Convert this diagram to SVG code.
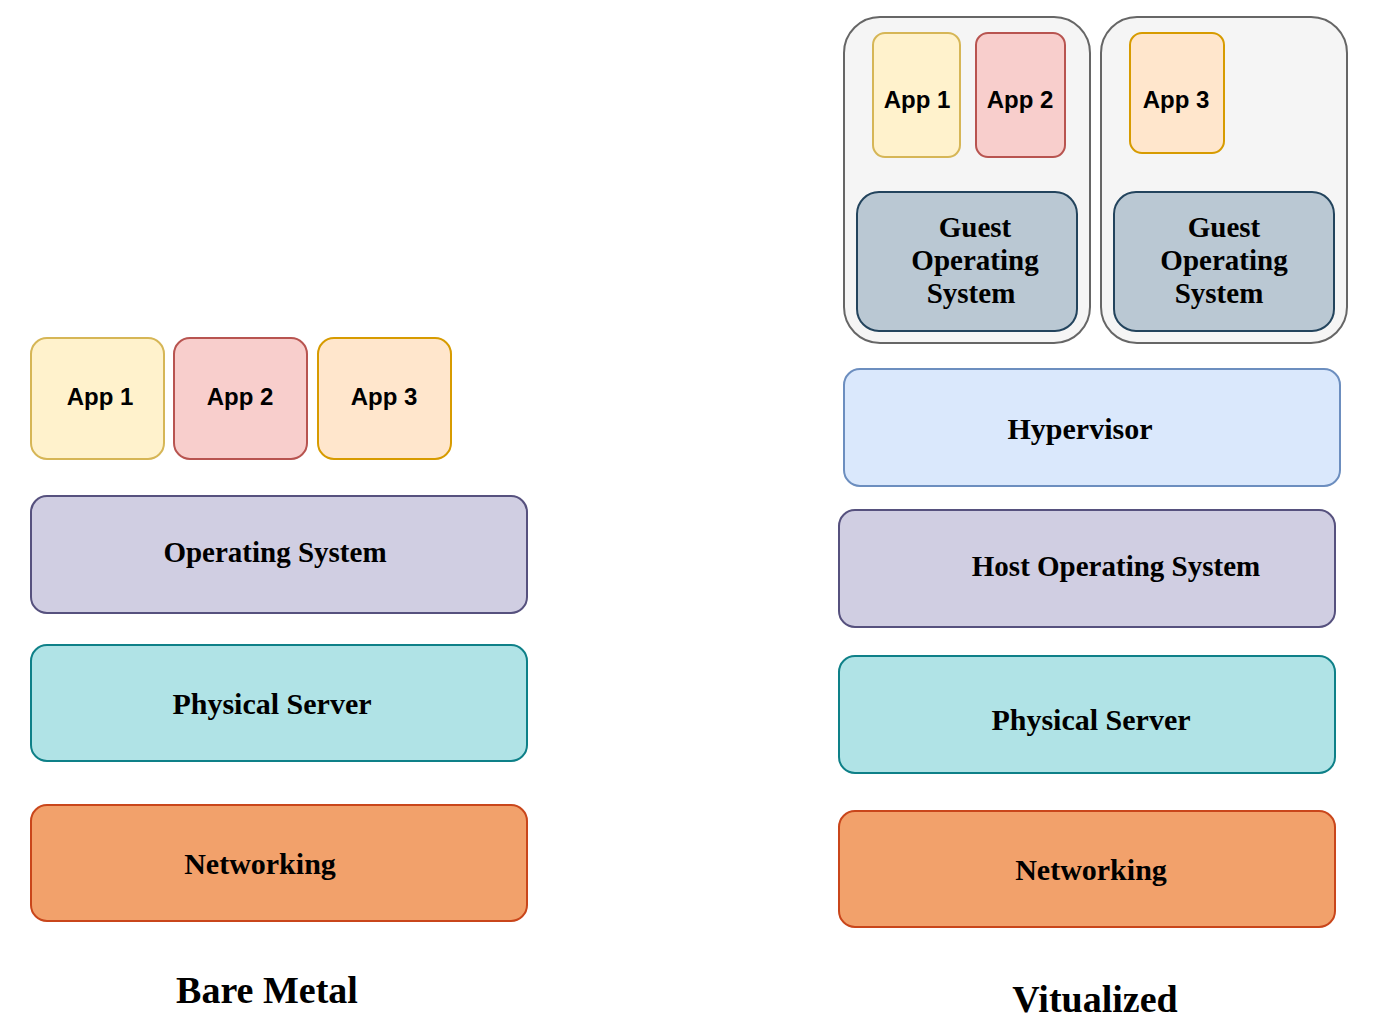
<svg xmlns="http://www.w3.org/2000/svg" width="1377" height="1031" viewBox="0 0 1377 1031">
<style>
.app{font-family:"Liberation Sans",Arial,sans-serif;font-weight:bold;font-size:24px;fill:#000;text-anchor:middle}
.lbl{font-family:"Liberation Serif","Times New Roman",serif;font-weight:bold;font-size:29px;fill:#000;text-anchor:middle}
.big{font-family:"Liberation Serif","Times New Roman",serif;font-weight:bold;font-size:38px;fill:#000;text-anchor:middle}
.a1{fill:#fff2cc;stroke:#d6b656;stroke-width:2}
.a2{fill:#f8cecc;stroke:#b85450;stroke-width:2}
.a3{fill:#ffe6cc;stroke:#d79b00;stroke-width:2}
.os{fill:#d0cee2;stroke:#56517e;stroke-width:2}
.ps{fill:#b0e3e6;stroke:#0e8088;stroke-width:2}
.nw{fill:#f2a16b;stroke:#c9461b;stroke-width:2}
.hv{fill:#dae8fc;stroke:#6c8ebf;stroke-width:2}
.gos{fill:#bac8d3;stroke:#23445d;stroke-width:2}
.vm{fill:#f5f5f5;stroke:#666666;stroke-width:2}
</style>
<rect width="1377" height="1031" fill="#ffffff"/>
<!-- Bare Metal -->
<g id="bm-app1"><rect class="a1" x="31" y="338" width="133" height="121" rx="16"/><text class="app" x="100" y="405">App 1</text></g>
<g id="bm-app2"><rect class="a2" x="174" y="338" width="133" height="121" rx="16"/><text class="app" x="240" y="405">App 2</text></g>
<g id="bm-app3"><rect class="a3" x="318" y="338" width="133" height="121" rx="16"/><text class="app" x="384" y="405">App 3</text></g>
<g id="bm-os"><rect class="os" x="31" y="496" width="496" height="117" rx="16"/><text class="lbl" x="275" y="562">Operating System</text></g>
<g id="bm-ps"><rect class="ps" x="31" y="645" width="496" height="116" rx="16"/><text class="lbl" x="272" y="714" style="font-size:30px">Physical Server</text></g>
<g id="bm-nw"><rect class="nw" x="31" y="805" width="496" height="116" rx="16"/><text class="lbl" x="260" y="874" style="font-size:30px">Networking</text></g>
<g id="bm-title"><text class="big" x="267" y="1003">Bare Metal</text></g>
<!-- Virtualized -->
<g id="vm1">
<rect class="vm" x="844" y="17" width="246" height="326" rx="36"/>
<g id="vm1-app1"><rect class="a1" x="873" y="33" width="87" height="124" rx="12"/><text class="app" x="917" y="108">App 1</text></g>
<g id="vm1-app2"><rect class="a2" x="976" y="33" width="89" height="124" rx="12"/><text class="app" x="1020" y="108">App 2</text></g>
<g id="vm1-gos"><rect class="gos" x="857" y="192" width="220" height="139" rx="22"/>
<text class="lbl" x="975" y="237">Guest</text><text class="lbl" x="975" y="270">Operating</text><text class="lbl" x="971" y="303">System</text></g>
</g>
<g id="vm2">
<rect class="vm" x="1101" y="17" width="246" height="326" rx="36"/>
<g id="vm2-app3"><rect class="a3" x="1130" y="33" width="94" height="120" rx="12"/><text class="app" x="1176" y="108">App 3</text></g>
<g id="vm2-gos"><rect class="gos" x="1114" y="192" width="220" height="139" rx="22"/>
<text class="lbl" x="1224" y="237">Guest</text><text class="lbl" x="1224" y="270">Operating</text><text class="lbl" x="1219" y="303">System</text></g>
</g>
<g id="hv"><rect class="hv" x="844" y="369" width="496" height="117" rx="16"/><text class="lbl" x="1080" y="439" style="font-size:30px">Hypervisor</text></g>
<g id="hos"><rect class="os" x="839" y="510" width="496" height="117" rx="16"/><text class="lbl" x="1116" y="576">Host Operating System</text></g>
<g id="v-ps"><rect class="ps" x="839" y="656" width="496" height="117" rx="16"/><text class="lbl" x="1091" y="730" style="font-size:30px">Physical Server</text></g>
<g id="v-nw"><rect class="nw" x="839" y="811" width="496" height="116" rx="16"/><text class="lbl" x="1091" y="880" style="font-size:30px">Networking</text></g>
<g id="v-title"><text class="big" x="1095" y="1012">Vitualized</text></g>
<g id="connectors"></g>
</svg>
